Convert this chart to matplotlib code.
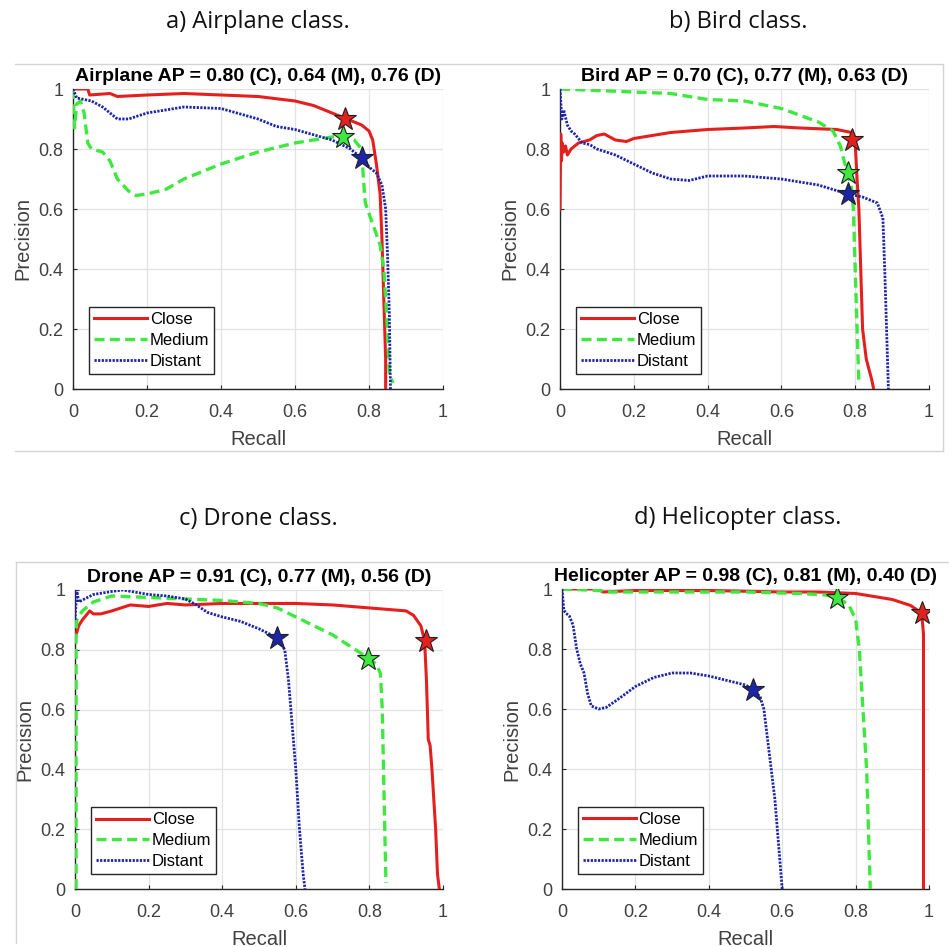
import matplotlib
matplotlib.use("Agg")
import matplotlib.pyplot as plt
from matplotlib.lines import Line2D
from matplotlib.ticker import FormatStrFormatter

# ---------------- data ----------------
panel_captions = ["a) Airplane class.", "b) Bird class.", "c) Drone class.", "d) Helicopter class."]
panel_titles = ["Airplane AP = 0.80 (C), 0.64 (M), 0.76 (D)",
                "Bird AP = 0.70 (C), 0.77 (M), 0.63 (D)",
                "Drone AP = 0.91 (C), 0.77 (M), 0.56 (D)",
                "Helicopter AP = 0.98 (C), 0.81 (M), 0.40 (D)"]
series_names = ["Close", "Medium", "Distant"]
ticks = [0, 0.2, 0.4, 0.6, 0.8, 1]

# Airplane
air_close_r = [0, 0.04, 0.045, 0.1, 0.12, 0.2, 0.3, 0.4, 0.5, 0.6, 0.65, 0.7, 0.74, 0.78, 0.8, 0.81, 0.82, 0.83, 0.835, 0.84, 0.845, 0.845]
air_close_p = [1.0, 1.0, 0.98, 0.985, 0.975, 0.98, 0.985, 0.98, 0.975, 0.96, 0.945, 0.92, 0.90, 0.88, 0.86, 0.83, 0.75, 0.65, 0.5, 0.3, 0.1, 0.0]
air_med_r = [0, 0.004, 0.01, 0.02, 0.03, 0.04, 0.05, 0.08, 0.1, 0.12, 0.15, 0.17, 0.2, 0.25, 0.3, 0.4, 0.5, 0.6, 0.7, 0.73, 0.76, 0.78, 0.785, 0.79, 0.81, 0.83, 0.84, 0.85, 0.855, 0.865]
air_med_p = [1.0, 0.87, 0.95, 0.96, 0.92, 0.82, 0.80, 0.79, 0.76, 0.70, 0.66, 0.645, 0.65, 0.665, 0.70, 0.75, 0.79, 0.82, 0.84, 0.845, 0.83, 0.80, 0.70, 0.62, 0.55, 0.48, 0.40, 0.20, 0.05, 0.02]
air_dist_r = [0, 0.01, 0.05, 0.08, 0.1, 0.12, 0.15, 0.2, 0.3, 0.4, 0.5, 0.55, 0.6, 0.7, 0.75, 0.78, 0.8, 0.82, 0.835, 0.845, 0.85, 0.855, 0.858]
air_dist_p = [1.0, 0.97, 0.96, 0.94, 0.92, 0.90, 0.90, 0.92, 0.94, 0.935, 0.90, 0.875, 0.865, 0.83, 0.80, 0.77, 0.74, 0.72, 0.68, 0.60, 0.45, 0.25, 0.0]
air_stars_r = [0.735, 0.73, 0.78]
air_stars_p = [0.90, 0.84, 0.77]

# Bird
bird_close_r = [0, 0.002, 0.004, 0.006, 0.01, 0.015, 0.02, 0.03, 0.05, 0.08, 0.1, 0.12, 0.15, 0.18, 0.2, 0.3, 0.4, 0.5, 0.58, 0.65, 0.75, 0.79, 0.8, 0.805, 0.81, 0.815, 0.82, 0.83, 0.845, 0.85]
bird_close_p = [0.60, 0.85, 0.76, 0.82, 0.79, 0.81, 0.78, 0.80, 0.82, 0.83, 0.845, 0.85, 0.83, 0.825, 0.835, 0.855, 0.865, 0.87, 0.875, 0.87, 0.865, 0.855, 0.82, 0.70, 0.60, 0.40, 0.20, 0.10, 0.03, 0.0]
bird_med_r = [0, 0.1, 0.2, 0.3, 0.4, 0.5, 0.6, 0.7, 0.74, 0.76, 0.77, 0.78, 0.79, 0.795, 0.8, 0.805, 0.81]
bird_med_p = [1.0, 0.995, 0.99, 0.985, 0.965, 0.96, 0.935, 0.89, 0.86, 0.81, 0.76, 0.72, 0.67, 0.60, 0.40, 0.20, 0.02]
bird_dist_r = [0, 0.005, 0.01, 0.02, 0.03, 0.04, 0.06, 0.08, 0.1, 0.15, 0.2, 0.25, 0.3, 0.35, 0.4, 0.5, 0.6, 0.7, 0.78, 0.82, 0.86, 0.875, 0.88, 0.885, 0.89]
bird_dist_p = [1.0, 0.90, 0.93, 0.88, 0.86, 0.85, 0.82, 0.815, 0.80, 0.78, 0.75, 0.72, 0.70, 0.695, 0.71, 0.71, 0.70, 0.68, 0.65, 0.64, 0.62, 0.57, 0.40, 0.20, 0.0]
bird_stars_r = [0.79, 0.78, 0.78]
bird_stars_p = [0.83, 0.72, 0.65]

# Drone
drone_close_r = [0.003, 0.01, 0.02, 0.04, 0.05, 0.07, 0.1, 0.15, 0.2, 0.25, 0.3, 0.4, 0.5, 0.6, 0.7, 0.8, 0.9, 0.92, 0.94, 0.95, 0.955, 0.96, 0.965, 0.97, 0.98, 0.985, 0.99]
drone_close_p = [0.85, 0.88, 0.90, 0.93, 0.92, 0.92, 0.93, 0.95, 0.945, 0.955, 0.95, 0.955, 0.955, 0.955, 0.95, 0.94, 0.93, 0.915, 0.88, 0.83, 0.70, 0.50, 0.48, 0.40, 0.20, 0.05, 0.0]
drone_med_r = [0.003, 0.003, 0.005, 0.02, 0.05, 0.1, 0.2, 0.3, 0.4, 0.5, 0.55, 0.6, 0.7, 0.75, 0.8, 0.82, 0.83, 0.835, 0.84, 0.845]
drone_med_p = [0.0, 0.85, 0.90, 0.93, 0.96, 0.98, 0.975, 0.97, 0.965, 0.955, 0.94, 0.91, 0.85, 0.81, 0.77, 0.75, 0.72, 0.60, 0.30, 0.02]
drone_dist_r = [0, 0.005, 0.01, 0.05, 0.1, 0.13, 0.2, 0.25, 0.3, 0.33, 0.36, 0.4, 0.45, 0.5, 0.55, 0.57, 0.58, 0.59, 0.6, 0.61, 0.62, 0.625]
drone_dist_p = [0.90, 1.0, 0.96, 0.985, 0.995, 1.0, 0.985, 0.98, 0.97, 0.95, 0.925, 0.91, 0.895, 0.87, 0.84, 0.80, 0.70, 0.55, 0.40, 0.20, 0.05, 0.0]
drone_stars_r = [0.955, 0.795, 0.55]
drone_stars_p = [0.83, 0.77, 0.84]

# Helicopter
heli_close_r = [0, 0.1, 0.11, 0.2, 0.4, 0.6, 0.7, 0.8, 0.85, 0.9, 0.95, 0.98, 0.985, 0.985, 0.985]
heli_close_p = [1.0, 1.0, 0.99, 0.995, 0.995, 0.99, 0.99, 0.985, 0.975, 0.965, 0.945, 0.92, 0.85, 0.50, 0.0]
heli_med_r = [0, 0.1, 0.12, 0.3, 0.5, 0.65, 0.72, 0.75, 0.78, 0.8, 0.81, 0.82, 0.83, 0.835, 0.84]
heli_med_p = [1.0, 0.995, 0.99, 0.99, 0.99, 0.985, 0.98, 0.97, 0.95, 0.90, 0.80, 0.60, 0.40, 0.20, 0.0]
heli_dist_r = [0, 0.005, 0.01, 0.02, 0.03, 0.04, 0.05, 0.06, 0.07, 0.08, 0.1, 0.12, 0.15, 0.2, 0.25, 0.3, 0.35, 0.4, 0.45, 0.5, 0.52, 0.54, 0.55, 0.56, 0.57, 0.58, 0.59, 0.6]
heli_dist_p = [1.0, 0.93, 0.92, 0.91, 0.88, 0.80, 0.75, 0.72, 0.65, 0.61, 0.60, 0.605, 0.63, 0.675, 0.705, 0.72, 0.72, 0.71, 0.695, 0.68, 0.665, 0.64, 0.60, 0.50, 0.40, 0.30, 0.15, 0.0]
heli_stars_r = [0.98, 0.75, 0.52]
heli_stars_p = [0.92, 0.97, 0.665]

panels = [
    ([(air_close_r, air_close_p), (air_med_r, air_med_p), (air_dist_r, air_dist_p)], (air_stars_r, air_stars_p)),
    ([(bird_close_r, bird_close_p), (bird_med_r, bird_med_p), (bird_dist_r, bird_dist_p)], (bird_stars_r, bird_stars_p)),
    ([(drone_close_r, drone_close_p), (drone_med_r, drone_med_p), (drone_dist_r, drone_dist_p)], (drone_stars_r, drone_stars_p)),
    ([(heli_close_r, heli_close_p), (heli_med_r, heli_med_p), (heli_dist_r, heli_dist_p)], (heli_stars_r, heli_stars_p)),
]

# ---------------- style ----------------
W, H = 949, 947
colors = ["#e3201e", "#3ee83e", "#1c24a8"]
styles = [dict(linestyle="-", linewidth=2.2),
          dict(linestyle=(0, (3.0, 1.6)), linewidth=2.4),
          dict(linestyle=(0, (0.8, 0.5)), linewidth=2.0)]
axes_px = [(73, 89, 443, 389), (560, 89, 929, 389), (75, 590, 443, 889), (562, 589, 929, 889)]
caption_px = [(258, 22), (738, 22), (258, 519), (738, 518)]
font_ax = ["Liberation Sans", "DejaVu Sans"]

fig = plt.figure(figsize=(W / 100, H / 100), dpi=100)

# faint frames around the embedded screenshots
frame_color = "#d4d4d4"
def fline(xs, ys):
    fig.add_artist(Line2D([x / W for x in xs], [1 - y / H for y in ys], color=frame_color, lw=1.0))
fline([15, 943], [64, 64])
fline([15, 943], [451, 451])
fline([943, 943], [64, 451])
fline([16, 949], [562, 562])
fline([16, 16], [562, 943])

for i, ((curves, stars), (x0, y0, x1, y1)) in enumerate(zip(panels, axes_px)):
    ax = fig.add_axes([x0 / W, 1 - y1 / H, (x1 - x0) / W, (y1 - y0) / H])
    for (r, p), c, st, name in zip(curves, colors, styles, series_names):
        ax.plot(r, p, color=c, label=name, **st, zorder=3)
    for sr, sp, c in zip(stars[0], stars[1], colors):
        ax.plot([sr], [sp], marker="*", markersize=17, markerfacecolor=c,
                markeredgecolor="#202020", markeredgewidth=0.8, linestyle="none", zorder=5)
    ax.set_xlim(0, 1)
    ax.set_ylim(0, 1)
    ax.set_xticks(ticks)
    ax.set_yticks(ticks)
    ax.xaxis.set_major_formatter(FormatStrFormatter("%g"))
    ax.yaxis.set_major_formatter(FormatStrFormatter("%g"))
    ax.grid(True, color="#e2e2e2", linewidth=0.9)
    ax.set_axisbelow(True)
    for s in ["top", "right"]:
        ax.spines[s].set_visible(False)
    for s in ["bottom", "left"]:
        ax.spines[s].set_color("#262626")
        ax.spines[s].set_linewidth(1.0)
    ax.tick_params(direction="in", length=3, colors="#262626", labelsize=13)
    ax.tick_params(axis="x", pad=11)
    ax.tick_params(axis="y", pad=7)
    for lab in ax.get_xticklabels() + ax.get_yticklabels():
        lab.set_family(font_ax)
        lab.set_color("#404040")
    ax.set_xlabel("Recall", fontsize=14.5, family=font_ax, color="#404040", labelpad=6)
    ax.set_ylabel("Precision", fontsize=14.5, family=font_ax, color="#404040", labelpad=4)
    ax.set_title(panel_titles[i], fontsize=14, fontweight="bold", family=font_ax, pad=6)
    leg = ax.legend(loc="lower left", bbox_to_anchor=(0.043, 0.05),
                    prop={"family": font_ax, "size": 12}, fancybox=False, framealpha=1,
                    edgecolor="#262626", handlelength=3.2, handletextpad=0.15,
                    borderpad=0.3, labelspacing=0.35, borderaxespad=0)
    leg.get_frame().set_linewidth(1.0)
    cx, cy = caption_px[i]
    fig.text(cx / W, 1 - cy / H, panel_captions[i], ha="center", va="center",
             fontsize=17, family=["Open Sans", "DejaVu Sans"], color="#111111")

fig.savefig("out.png", dpi=100, facecolor="white")
